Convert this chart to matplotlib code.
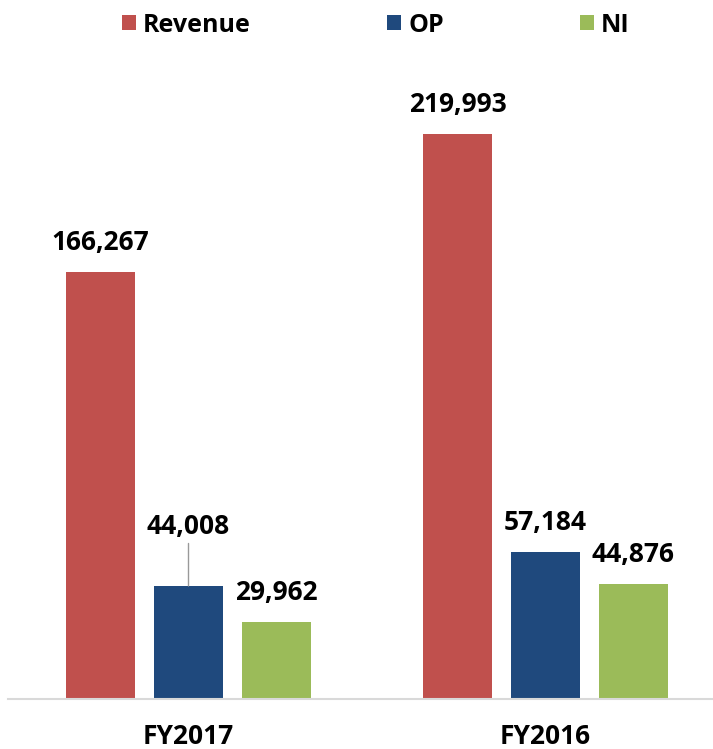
import numpy as np
import matplotlib
matplotlib.use('Agg')
import matplotlib.pyplot as plt

# data
years = ['FY2017', 'FY2016']
series = ['Revenue', 'OP', 'NI']
revenue = [166267, 219993]
op = [44008, 57184]
ni = [29962, 44876]
colors = ['#C0504D', '#1F497D', '#9BBB59']

plt.rcParams['font.family'] = ['Open Sans', 'DejaVu Sans']
plt.rcParams['font.weight'] = 'bold'

W, H = 713, 749
fig = plt.figure(figsize=(W / 100, H / 100), dpi=100)
ax = fig.add_axes([8 / W, 50 / H, 1 - 8 / W, 649 / H])

x = np.arange(len(years))
width = 0.1933
step = 0.2465

for i, (name, vals) in enumerate(zip(series, [revenue, op, ni])):
    pos = x + (i - 1) * step
    ax.bar(pos, vals, width, color=colors[i], label=name)
    for j, (px, v) in enumerate(zip(pos, vals)):
        txt = f'{v:,}'
        if name == 'OP' and j == 0:
            # label pulled up with a leader line
            ax.annotate(txt, xy=(px, v), xytext=(0, 37.4), textcoords='offset points',
                        ha='center', va='baseline', fontsize=19, fontweight='bold',
                        arrowprops=dict(arrowstyle='-', color='#999999', lw=1,
                                        patchA=None, shrinkA=12.2, shrinkB=0))
        else:
            ax.annotate(txt, xy=(px, v), xytext=(0, 15.8), textcoords='offset points',
                        ha='center', va='baseline', fontsize=19, fontweight='bold')

ax.set_xlim(-0.5056, 1.4692)
ax.set_ylim(0, 252700)
ax.set_xticks(x)
ax.set_xticklabels(years, fontsize=19, fontweight='bold')
ax.tick_params(axis='x', length=0, pad=17)
ax.set_yticks([])
for s in ['top', 'right', 'left']:
    ax.spines[s].set_visible(False)
ax.spines['bottom'].set_color('#D9D9D9')
ax.spines['bottom'].set_linewidth(1.5)

fig.legend(loc='center', bbox_to_anchor=(0.527, 1 - 25 / H), ncol=3, frameon=False,
           prop={'size': 18, 'weight': 'bold'}, handlelength=0.56, handleheight=0.56,
           handletextpad=0.28, columnspacing=5.44)

fig.savefig('out.png', dpi=100)
